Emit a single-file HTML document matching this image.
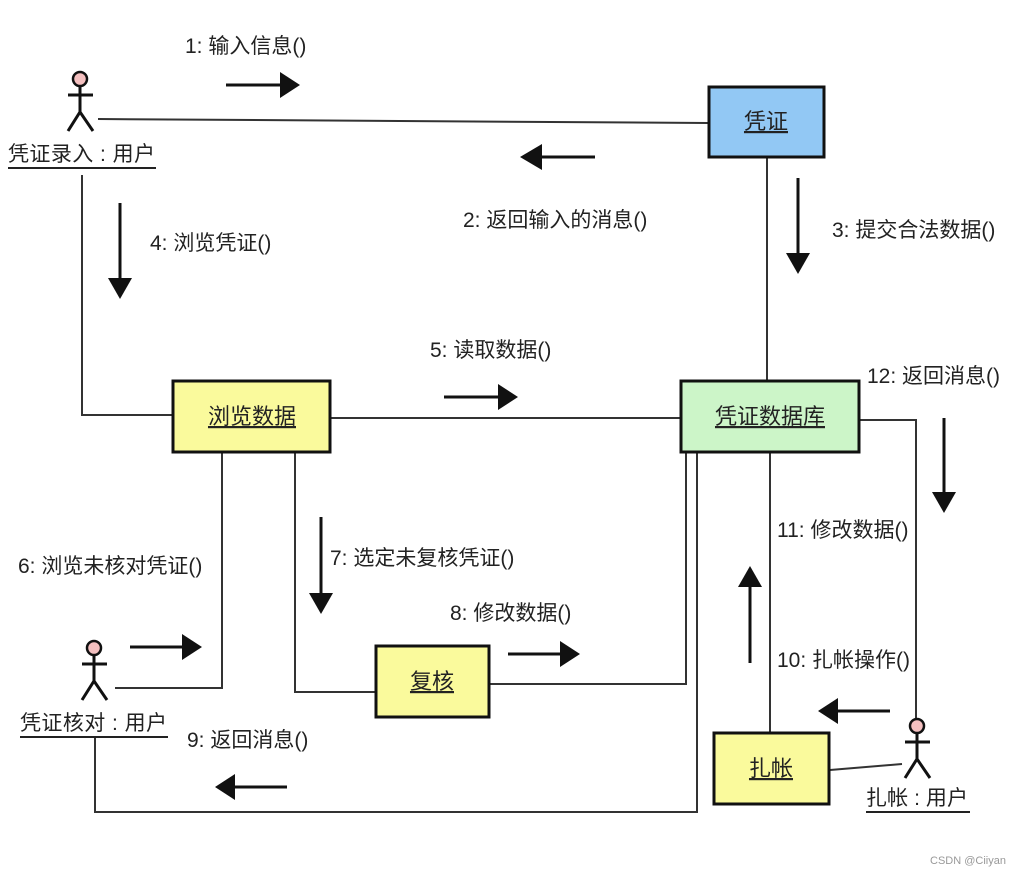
<!DOCTYPE html>
<html><head><meta charset="utf-8"><style>
html,body{margin:0;padding:0;background:#fff;}
svg{display:block;}
text{font-family:"Liberation Sans","Noto Sans CJK SC",sans-serif;font-size:21px;fill:#222;}
.u{text-decoration:underline;font-size:22px;}
</style></head><body>
<svg width="1022" height="877" viewBox="0 0 1022 877" xmlns="http://www.w3.org/2000/svg">
<g stroke="#333" stroke-width="2" fill="none">
<line x1="98" y1="119" x2="708" y2="123"/>
<line x1="767" y1="158" x2="767" y2="380"/>
<polyline points="82,175 82,415 172,415"/>
<line x1="331" y1="418" x2="680" y2="418"/>
<polyline points="222,453 222,688 115,688"/>
<polyline points="295,453 295,692 375,692"/>
<polyline points="490,684 686,684 686,453"/>
<polyline points="697,453 697,812 95,812 95,738"/>
<line x1="770" y1="453" x2="770" y2="732"/>
<polyline points="860,420 916,420 916,718"/>
<line x1="830" y1="770" x2="902" y2="764"/>
</g>
<g stroke="#111" stroke-width="3">
<line x1="226" y1="85" x2="282" y2="85"/>
<line x1="540" y1="157" x2="595" y2="157"/>
<line x1="798" y1="178" x2="798" y2="255"/>
<line x1="120" y1="203" x2="120" y2="280"/>
<line x1="444" y1="397" x2="500" y2="397"/>
<line x1="944" y1="418" x2="944" y2="494"/>
<line x1="321" y1="517" x2="321" y2="595"/>
<line x1="130" y1="647" x2="184" y2="647"/>
<line x1="508" y1="654" x2="562" y2="654"/>
<line x1="750" y1="585" x2="750" y2="663"/>
<line x1="836" y1="711" x2="890" y2="711"/>
<line x1="233" y1="787" x2="287" y2="787"/>
</g>
<g fill="#111">
<polygon points="280,72 300,85 280,98"/>
<polygon points="542,144 520,157 542,170"/>
<polygon points="786,253 810,253 798,274"/>
<polygon points="108,278 132,278 120,299"/>
<polygon points="498,384 518,397 498,410"/>
<polygon points="932,492 956,492 944,513"/>
<polygon points="309,593 333,593 321,614"/>
<polygon points="182,634 202,647 182,660"/>
<polygon points="560,641 580,654 560,667"/>
<polygon points="738,587 762,587 750,566"/>
<polygon points="838,698 818,711 838,724"/>
<polygon points="235,774 215,787 235,800"/>
</g>
<g stroke="#111" stroke-width="3">
<rect x="709" y="87" width="115" height="70" fill="#92c8f4"/>
<rect x="173" y="381" width="157" height="71" fill="#fafa9c"/>
<rect x="681" y="381" width="178" height="71" fill="#ccf5c8"/>
<rect x="376" y="646" width="113" height="71" fill="#fafa9c"/>
<rect x="714" y="733" width="115" height="71" fill="#fafa9c"/>
</g>
<text x="766" y="129" text-anchor="middle" class="u">凭证</text>
<text x="252" y="424" text-anchor="middle" class="u">浏览数据</text>
<text x="770" y="424" text-anchor="middle" class="u">凭证数据库</text>
<text x="432" y="689" text-anchor="middle" class="u">复核</text>
<text x="771" y="776" text-anchor="middle" class="u">扎帐</text>
<g stroke="#111" stroke-width="3" fill="none">
<circle cx="80" cy="79" r="7" fill="#f4c0c0" stroke-width="2.5"/>
<line x1="80" y1="86" x2="80" y2="112"/><line x1="68" y1="95" x2="93" y2="95"/>
<polyline points="68,131 80,112 93,131"/>
<circle cx="94" cy="648" r="7" fill="#f4c0c0" stroke-width="2.5"/>
<line x1="94" y1="655" x2="94" y2="681"/><line x1="82" y1="664" x2="107" y2="664"/>
<polyline points="82,700 94,681 107,700"/>
<circle cx="917" cy="726" r="7" fill="#f4c0c0" stroke-width="2.5"/>
<line x1="917" y1="733" x2="917" y2="759"/><line x1="905" y1="742" x2="930" y2="742"/>
<polyline points="905,778 917,759 930,778"/>
</g>
<text x="8" y="161" textLength="147">凭证录入 : 用户</text><line x1="8" y1="168" x2="156" y2="168" stroke="#222" stroke-width="2"/>
<text x="20" y="730" textLength="147">凭证核对 : 用户</text><line x1="20" y1="737" x2="168" y2="737" stroke="#222" stroke-width="2"/>
<text x="866" y="805" textLength="102">扎帐 : 用户</text><line x1="866" y1="812" x2="970" y2="812" stroke="#222" stroke-width="2"/>
<text x="185" y="53">1: 输入信息()</text>
<text x="463" y="227">2: 返回输入的消息()</text>
<text x="832" y="237">3: 提交合法数据()</text>
<text x="150" y="250">4: 浏览凭证()</text>
<text x="430" y="357">5: 读取数据()</text>
<text x="867" y="383">12: 返回消息()</text>
<text x="18" y="573">6: 浏览未核对凭证()</text>
<text x="330" y="565">7: 选定未复核凭证()</text>
<text x="450" y="620">8: 修改数据()</text>
<text x="777" y="537">11: 修改数据()</text>
<text x="777" y="667">10: 扎帐操作()</text>
<text x="187" y="747">9: 返回消息()</text>
<text x="930" y="864" style="font-size:11px;fill:#999">CSDN @Ciiyan</text>
</svg>
</body></html>
